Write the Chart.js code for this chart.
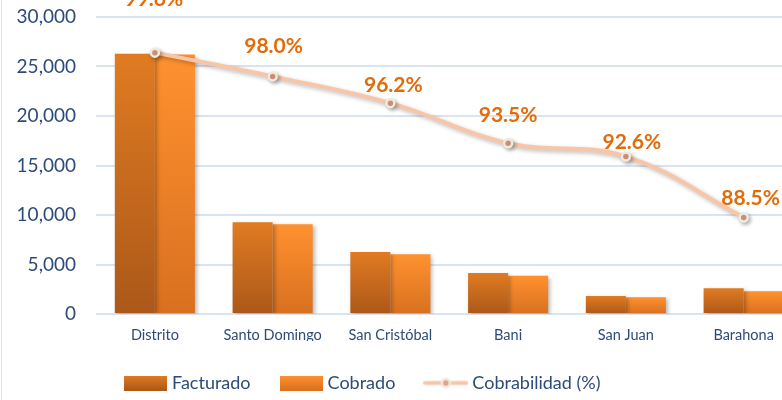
<!DOCTYPE html>
<html>
<head>
<meta charset="utf-8">
<script src="https://cdn.jsdelivr.net/npm/chart.js@4"></script>
<style>
    html, body { margin: 0; padding: 0; background: #fff; overflow: hidden; }
    #frame { position: absolute; left: 1px; top: 0; width: 1px; height: 400px; background: #DCE5F1; }
    #wrap { position: absolute; left: 0; top: 0; width: 809px; height: 400px; }
</style>
</head>
<body>
<div id="wrap"><canvas id="grafico"></canvas></div>
<div id="frame"></div>
<script>
// datos
const regiones = ['Distrito', 'Santo Domingo', 'San Cristóbal', 'Bani', 'San Juan', 'Barahona'];
const facturado = [26300, 9260, 6260, 4140, 1820, 2600];
const cobrado = [26200, 9070, 6030, 3870, 1690, 2300];
const cobrabilidad = [99.6, 98.0, 96.2, 93.5, 92.6, 88.5];
const ticksY = [0, 5000, 10000, 15000, 20000, 25000, 30000];

const AZUL = '#2D4B7A';
const NARANJA = '#E36C0A';
const FONT = 'Lato';

// degradado vertical para cada barra
function rellenoBarra(ctx, arriba, abajo) {
    const chart = ctx.chart;
    if (!chart.chartArea || ctx.type !== 'data') return arriba;
    const y = chart.scales.y;
    const top = y.getPixelForValue(ctx.raw);
    const base = y.getPixelForValue(0);
    const g = chart.ctx.createLinearGradient(0, top, 0, base);
    g.addColorStop(0, arriba);
    g.addColorStop(1, abajo);
    return g;
}

// iconos de la leyenda
function iconoBarra(arriba, abajo) {
    const c = document.createElement('canvas');
    c.width = 43; c.height = 15;
    const x = c.getContext('2d');
    const g = x.createLinearGradient(0, 0, 0, 15);
    g.addColorStop(0, arriba);
    g.addColorStop(1, abajo);
    x.fillStyle = g;
    x.fillRect(0, 0, 43, 15);
    return c;
}
function iconoLinea() {
    const c = document.createElement('canvas');
    c.width = 45; c.height = 15;
    const x = c.getContext('2d');
    x.strokeStyle = '#F8C6A6';
    x.lineWidth = 4;
    x.lineCap = 'round';
    x.beginPath(); x.moveTo(2, 7.5); x.lineTo(43, 7.5); x.stroke();
    x.beginPath(); x.arc(22.5, 7.5, 4, 0, Math.PI * 2);
    x.fillStyle = '#E9A084'; x.fill();
    x.lineWidth = 2.5; x.strokeStyle = '#EEEAE0'; x.stroke();
    return c;
}
const iconos = [iconoBarra('#E07B22', '#AC5819'), iconoBarra('#FF912F', '#D8701F'), iconoLinea()];

// sombra suave para barras y línea
const sombra = {
    id: 'sombra',
    beforeDatasetDraw(chart) {
        const c = chart.ctx;
        c.save();
        c.shadowColor = 'rgba(0,0,0,0.28)';
        c.shadowBlur = 4;
        c.shadowOffsetX = 2;
        c.shadowOffsetY = 2;
    },
    afterDatasetDraw(chart) {
        chart.ctx.restore();
    }
};

// etiquetas de porcentaje sobre los puntos
const etiquetas = {
    id: 'etiquetas',
    afterDatasetsDraw(chart, args, opts) {
        const meta = chart.getDatasetMeta(2);
        const c = chart.ctx;
        c.save();
        c.font = 'bold 21px ' + FONT;
        c.fillStyle = NARANJA;
        c.textAlign = 'center';
        c.textBaseline = 'middle';
        meta.data.forEach((pt, i) => {
            const v = chart.data.datasets[2].data[i];
            c.fillText(v.toFixed(1) + '%', pt.x + opts.dx[i], pt.y - opts.dy[i]);
        });
        c.restore();
    }
};

// leyenda desplazada a la izquierda como en el original
const leyendaPos = {
    id: 'leyendaPos',
    beforeDraw(chart) {
        const lg = chart.legend;
        const w = lg.right - lg.left;
        lg.left = 128 - chart.options.plugins.legend.labels.padding;
        lg.right = lg.left + w;
    }
};

new Chart(document.getElementById('grafico'), {
    type: 'bar',
    data: {
        labels: regiones,
        datasets: [
            {
                label: 'Facturado',
                data: facturado,
                backgroundColor: ctx => rellenoBarra(ctx, '#E07B22', '#AC5819'),
                order: 2
            },
            {
                label: 'Cobrado',
                data: cobrado,
                backgroundColor: ctx => rellenoBarra(ctx, '#FF912F', '#D8701F'),
                order: 2
            },
            {
                type: 'line',
                label: 'Cobrabilidad (%)',
                data: cobrabilidad,
                yAxisID: 'y2',
                borderColor: '#F8C6A6',
                borderWidth: 4,
                tension: 0.4,
                pointRadius: 4,
                pointBorderWidth: 2.5,
                pointBackgroundColor: '#E9A084',
                pointBorderColor: '#EEEAE0',
                order: 1
            }
        ]
    },
    options: {
        responsive: true,
        maintainAspectRatio: false,
        animation: false,
        categoryPercentage: 0.68,
        barPercentage: 1,
        layout: { padding: { top: 17, left: 0, right: 0, bottom: -2 } },
        scales: {
            x: {
                grid: { display: false },
                border: { display: false },
                ticks: { color: AZUL, font: { family: FONT, size: 14.5 }, padding: 5 },
                afterFit: s => { s.height = 27; }
            },
            y: {
                min: 0,
                max: 30000,
                afterBuildTicks: s => { s.ticks = ticksY.map(v => ({ value: v })); },
                afterFit: s => { s.width = 96; s.paddingTop = 0; s.paddingBottom = 0; },
                grid: { color: '#DAE4F1', lineWidth: 2, drawTicks: false },
                border: { display: false },
                ticks: {
                    color: AZUL,
                    padding: 20,
                    font: { family: FONT, size: 19 },
                    callback: v => v.toLocaleString('en-US')
                }
            },
            y2: { display: false, min: 82, max: 102 }
        },
        plugins: {
            tooltip: { enabled: false },
            legend: {
                position: 'bottom',
                align: 'start',
                labels: {
                    color: AZUL,
                    font: { family: FONT, size: 18 },
                    padding: 33,
                    boxHeight: 15,
                    usePointStyle: true,
                    pointStyleWidth: 35,
                    generateLabels: chart => {
                        const items = Chart.defaults.plugins.legend.labels.generateLabels(chart);
                        items.sort((a, b) => a.datasetIndex - b.datasetIndex);
                        items.forEach(it => { it.pointStyle = iconos[it.datasetIndex]; });
                        return items;
                    }
                }
            },
            etiquetas: {
                dx: [-1, 1, 3, 0, 6, 7],
                dy: [53, 30, 18, 28, 14, 19]
            }
        }
    },
    plugins: [sombra, etiquetas, leyendaPos]
});
</script>
</body>
</html>
